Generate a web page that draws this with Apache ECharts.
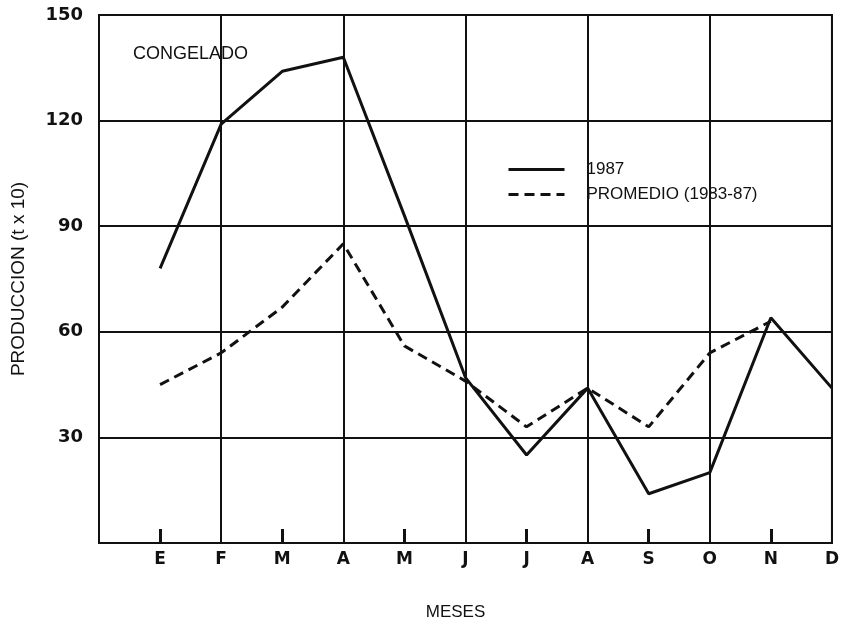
<!DOCTYPE html>
<html>
<head>
<meta charset="utf-8">
<script src="https://cdn.jsdelivr.net/npm/echarts@6/dist/echarts.min.js"></script>
<style>
  html, body { margin: 0; padding: 0; background: #fff; }
  #chart { width: 842px; height: 626px; }
</style>
</head>
<body>
<div id="chart"></div>
<script>
// meses (indice 0 = origen vacio)
var months = ['', 'E', 'F', 'M', 'A', 'M', 'J', 'J', 'A', 'S', 'O', 'N', 'D'];
var prod1987 = [null, 78, 119, 134, 138, 93, 47, 25, 44, 14, 20, 64, 44];
var promedio = [null, 45, 54, 67, 85, 56, 46, 33, 44, 33, 54, 63, null];
var yTicks = [0, 30, 60, 90, 120, 150];

var ink = '#111';
var chart = echarts.init(document.getElementById('chart'), null, { renderer: 'canvas' });

var option = {
  backgroundColor: '#fff',
  animation: false,
  title: {
    text: 'CONGELADO',
    left: 128,
    top: 40,
    textStyle: { fontFamily: 'Liberation Sans', fontSize: 18, fontWeight: 'normal', color: ink }
  },
  legend: {
    orient: 'vertical',
    left: 502,
    top: 156,
    itemWidth: 56,
    itemHeight: 14,
    itemGap: 8,
    itemStyle: { opacity: 0 },
    lineStyle: { width: 3 },
    textStyle: { fontFamily: 'Liberation Sans', fontSize: 17, color: ink, padding: [0, 0, 0, 17] },
    data: ['1987', 'PROMEDIO (1983-87)']
  },
  grid: {
    left: 99,
    right: 9,
    top: 15,
    bottom: 83,
    show: true,
    borderColor: ink,
    borderWidth: 2,
    containLabel: false
  },
  xAxis: {
    type: 'category',
    data: months,
    boundaryGap: false,
    name: 'MESES',
    nameLocation: 'middle',
    nameGap: 61,
    nameTextStyle: { fontFamily: 'Liberation Sans', fontSize: 17, color: ink, padding: [0, 20, 0, 0] },
    axisLine: { show: true, lineStyle: { color: ink, width: 2 } },
    axisTick: {
      show: true,
      inside: true,
      length: 14,
      interval: function (i) { return i % 2 === 1; },
      lineStyle: { color: ink, width: 3 }
    },
    axisLabel: {
      margin: 8,
      interval: 0,
      fontFamily: 'DejaVu Sans',
      fontWeight: 'bold',
      fontSize: 17,
      color: ink
    },
    splitLine: {
      show: true,
      interval: function (i) { return i > 0 && i % 2 === 0; },
      lineStyle: { color: ink, width: 2 }
    }
  },
  yAxis: {
    type: 'value',
    min: yTicks[0],
    max: yTicks[yTicks.length - 1],
    interval: 30,
    name: 'PRODUCCION (t x 10)',
    nameLocation: 'middle',
    nameGap: 71,
    nameRotate: 90,
    nameTextStyle: { fontFamily: 'Liberation Sans', fontSize: 19, color: ink },
    axisLine: { show: true, lineStyle: { color: ink, width: 2 } },
    axisTick: { show: false },
    axisLabel: {
      margin: 16,
      fontFamily: 'DejaVu Sans',
      fontWeight: 'bold',
      fontSize: 18,
      color: ink,
      formatter: function (v) { return v === 0 ? '' : v; }
    },
    splitLine: { show: true, lineStyle: { color: ink, width: 2 } }
  },
  series: [
    {
      name: '1987',
      type: 'line',
      data: prod1987,
      symbol: 'none',
      connectNulls: false,
      lineStyle: { color: ink, width: 3, type: 'solid' },
      itemStyle: { color: ink }
    },
    {
      name: 'PROMEDIO (1983-87)',
      type: 'line',
      data: promedio,
      symbol: 'none',
      connectNulls: false,
      lineStyle: { color: ink, width: 3, type: [10, 6] },
      itemStyle: { color: ink }
    }
  ]
};

chart.setOption(option);
</script>
</body>
</html>
